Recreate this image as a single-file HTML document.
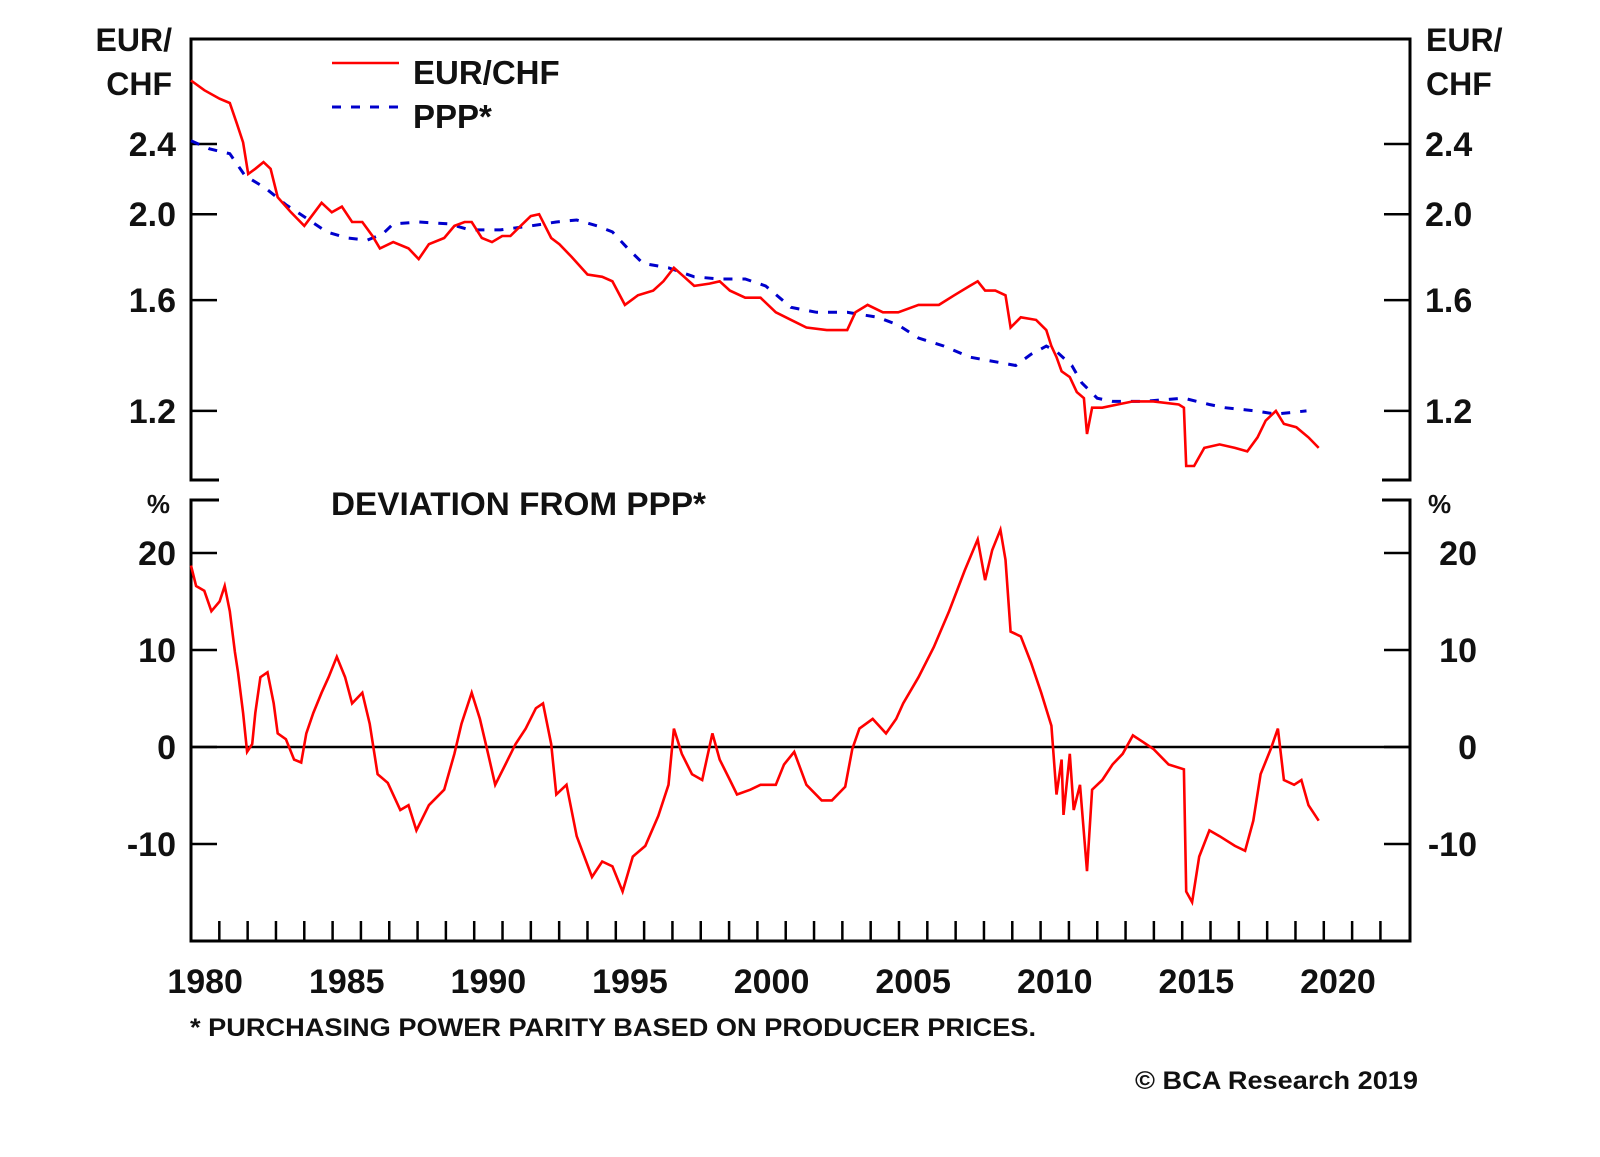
<!DOCTYPE html>
<html><head><meta charset="utf-8"><style>
html,body{margin:0;padding:0;background:#fff;}
svg text{font-family:"Liberation Sans",Arial,sans-serif;font-weight:bold;fill:#111;}
</style></head><body>
<svg id="chart" width="1600" height="1152" viewBox="0 0 1600 1152" xmlns="http://www.w3.org/2000/svg">
<g id="frame"></g>
<g id="marks"></g>
<g id="labels"></g>
</svg>
<script>
const fxYears=[1980.00,1980.47,1981.01,1981.37,1981.62,1981.84,1982.02,1982.27,1982.56,1982.81,1983.06,1983.53,1984.00,1984.36,1984.61,1984.97,1985.33,1985.69,1986.05,1986.41,1986.67,1987.14,1987.68,1988.04,1988.40,1988.94,1989.30,1989.66,1989.91,1990.27,1990.63,1990.99,1991.28,1991.64,1992.00,1992.29,1992.72,1993.01,1993.44,1994.00,1994.52,1994.88,1995.32,1995.78,1996.32,1996.68,1997.05,1997.41,1997.77,1998.31,1998.67,1999.03,1999.57,2000.11,2000.65,2001.19,2001.73,2002.45,2003.17,2003.46,2003.89,2004.43,2004.97,2005.69,2006.41,2006.95,2007.50,2007.78,2008.04,2008.40,2008.76,2008.94,2009.30,2009.84,2010.20,2010.38,2010.56,2010.74,2011.03,2011.28,2011.53,2011.64,2011.82,2012.18,2012.72,2013.26,2013.98,2014.88,2015.06,2015.14,2015.42,2015.78,2016.32,2016.86,2017.30,2017.66,2017.95,2018.31,2018.59,2019.03,2019.46,2019.82];
const fxValues=[2.83,2.76,2.70,2.67,2.53,2.41,2.22,2.25,2.29,2.25,2.09,2.01,1.94,2.01,2.06,2.01,2.04,1.96,1.96,1.89,1.83,1.86,1.83,1.78,1.85,1.88,1.94,1.96,1.96,1.88,1.86,1.89,1.89,1.94,1.99,2.00,1.88,1.85,1.79,1.71,1.70,1.68,1.58,1.62,1.64,1.68,1.74,1.70,1.66,1.67,1.68,1.64,1.61,1.61,1.55,1.52,1.49,1.48,1.48,1.55,1.58,1.55,1.55,1.58,1.58,1.62,1.66,1.68,1.64,1.64,1.62,1.49,1.53,1.52,1.48,1.42,1.38,1.33,1.31,1.26,1.24,1.13,1.21,1.21,1.22,1.23,1.23,1.22,1.21,1.04,1.04,1.09,1.10,1.09,1.08,1.12,1.17,1.20,1.16,1.15,1.12,1.09];
const pppYears=[1980.00,1980.65,1981.37,1981.91,1982.63,1983.35,1984.07,1984.79,1985.51,1986.23,1986.77,1987.14,1988.04,1989.12,1989.84,1990.92,1992.00,1992.90,1993.62,1994.34,1994.88,1995.42,1995.96,1996.86,1997.77,1998.67,1999.57,2000.29,2001.19,2002.09,2003.17,2004.25,2004.97,2005.69,2006.59,2007.50,2008.58,2009.12,2009.66,2010.20,2010.56,2011.10,2011.46,2012.00,2012.54,2013.62,2015.06,2015.96,2016.50,2017.58,2018.31,2019.39];
const pppValues=[2.42,2.37,2.34,2.21,2.14,2.05,1.98,1.91,1.88,1.87,1.90,1.95,1.96,1.95,1.92,1.92,1.94,1.96,1.97,1.94,1.91,1.83,1.76,1.74,1.70,1.69,1.69,1.66,1.57,1.55,1.55,1.53,1.50,1.45,1.42,1.38,1.36,1.35,1.39,1.42,1.40,1.35,1.29,1.24,1.23,1.23,1.24,1.22,1.21,1.20,1.19,1.20];
const devYears=[1980.00,1980.18,1980.47,1980.72,1981.01,1981.19,1981.37,1981.55,1981.66,1981.84,1981.98,1982.16,1982.27,1982.45,1982.70,1982.92,1983.06,1983.35,1983.64,1983.89,1984.07,1984.32,1984.61,1984.86,1985.15,1985.44,1985.69,1986.05,1986.31,1986.59,1986.95,1987.39,1987.68,1987.96,1988.40,1988.94,1989.30,1989.55,1989.91,1990.20,1990.49,1990.74,1991.10,1991.46,1991.82,1992.18,1992.43,1992.72,1992.90,1993.26,1993.62,1994.16,1994.52,1994.88,1995.24,1995.60,1996.04,1996.50,1996.86,1997.05,1997.33,1997.69,1998.05,1998.41,1998.67,1999.03,1999.28,1999.75,2000.11,2000.65,2000.94,2001.30,2001.73,2002.27,2002.63,2003.10,2003.35,2003.60,2004.07,2004.54,2004.90,2005.15,2005.69,2006.23,2006.77,2007.32,2007.78,2008.04,2008.29,2008.58,2008.76,2008.94,2009.30,2009.66,2010.02,2010.38,2010.56,2010.74,2010.81,2011.03,2011.17,2011.39,2011.64,2011.82,2012.18,2012.54,2012.90,2013.26,2013.62,2013.98,2014.52,2015.06,2015.14,2015.35,2015.60,2015.96,2016.32,2016.86,2017.22,2017.51,2017.77,2018.13,2018.38,2018.59,2018.95,2019.21,2019.46,2019.82];
const devValues=[18.7,16.6,16.1,14.0,15.0,16.6,14.0,9.8,7.7,3.5,-0.5,0.3,3.5,7.2,7.7,4.5,1.4,0.8,-1.3,-1.6,1.4,3.5,5.6,7.2,9.3,7.2,4.5,5.6,2.4,-2.8,-3.7,-6.5,-6.0,-8.6,-6.0,-4.4,-0.7,2.4,5.6,2.9,-0.7,-3.9,-1.8,0.3,1.9,4.0,4.5,0.3,-4.9,-3.9,-9.2,-13.4,-11.8,-12.3,-14.9,-11.3,-10.2,-7.1,-3.9,1.9,-0.7,-2.8,-3.4,1.4,-1.3,-3.4,-4.9,-4.4,-3.9,-3.9,-1.8,-0.5,-3.9,-5.5,-5.5,-4.1,-0.2,1.9,2.9,1.4,2.9,4.5,7.2,10.3,14.0,18.2,21.4,17.2,20.3,22.4,19.3,11.9,11.4,8.7,5.6,2.2,-4.9,-1.3,-7.0,-0.7,-6.5,-3.9,-12.8,-4.4,-3.4,-1.8,-0.7,1.2,0.5,-0.2,-1.8,-2.3,-14.9,-16.0,-11.3,-8.6,-9.2,-10.2,-10.7,-7.6,-2.8,-0.2,1.9,-3.4,-3.9,-3.4,-6.0,-7.6];
const topTicks=[2.4,2.0,1.6,1.2];
const topTickLabels=["2.4","2.0","1.6","1.2"];
const botTicks=[20,10,0,-10];
const botTickLabels=["20","10","0","-10"];
const xLabelYears=[1980,1985,1990,1995,2000,2005,2010,2015,2020];

const NS="http://www.w3.org/2000/svg";
const L=191,R=1410,T=39,TB=480,BT=500,B=941;
function xs(yr){return L+(yr-1980)*28.32;}
function ysTop(v){return 144+Math.log(2.4/v)*385;}
function ysBot(v){return 747-v*9.7;}
function mk(tag,attrs,parent){const e=document.createElementNS(NS,tag);for(const k in attrs)e.setAttribute(k,attrs[k]);parent.appendChild(e);return e;}
const frame=document.getElementById('frame'),marks=document.getElementById('marks'),labels=document.getElementById('labels');
const ax={stroke:'#000','stroke-width':3,fill:'none'};
let p=mk('path',Object.assign({d:`M${L+28},${TB} H${L} V${T} H${R} V${TB} H${R-28}`},ax),frame);


p=mk('path',Object.assign({d:`M${L+28},${BT} H${L} V${B} H${R} V${BT} H${R-28}`},ax),frame);


p=mk('line',{x1:L,x2:R,y1:ysBot(0),y2:ysBot(0),stroke:'#000','stroke-width':2.5},frame);


topTicks.forEach((v,i)=>{const y=ysTop(v);
 let t=mk('line',{x1:L,x2:L+26,y1:y,y2:y,stroke:'#000','stroke-width':2.5},frame);
 
 
 t=mk('line',{x1:R-26,x2:R,y1:y,y2:y,stroke:'#000','stroke-width':2.5},frame);
 
 
 let tx=mk('text',{x:176,y:y+12,'text-anchor':'end','font-size':34},labels);tx.textContent=topTickLabels[i];
 
 
 tx=mk('text',{x:1425,y:y+12,'text-anchor':'start','font-size':34},labels);tx.textContent=topTickLabels[i];
 
 
});
botTicks.forEach((v,i)=>{const y=ysBot(v);
 let t=mk('line',{x1:L,x2:L+26,y1:y,y2:y,stroke:'#000','stroke-width':2.5},frame);
 
 
 t=mk('line',{x1:R-26,x2:R,y1:y,y2:y,stroke:'#000','stroke-width':2.5},frame);
 
 
 let tx=mk('text',{x:176,y:y+12,'text-anchor':'end','font-size':34},labels);tx.textContent=botTickLabels[i];
 
 
 tx=mk('text',{x:1477,y:y+12,'text-anchor':'end','font-size':34},labels);tx.textContent=botTickLabels[i];
 
 
});
for(let yr=1981;yr<=2022;yr++){const x=xs(yr);
 let t=mk('line',{x1:x,x2:x,y1:B,y2:B-20,stroke:'#000','stroke-width':2.5},frame);
 
 
}
xLabelYears.forEach(yr=>{let tx=mk('text',{x:xs(yr+0.5),y:993,'text-anchor':'middle','font-size':34},labels);tx.textContent=String(yr);
 
 
});
function line(xa,va,yf,attrs,name){
 const d=xa.map((yr,i)=>(i?'L':'M')+xs(yr).toFixed(1)+','+yf(va[i]).toFixed(1)).join(' ');
 const e=mk('path',Object.assign({d:d,fill:'none'},attrs),marks);
 
 
}
line(pppYears,pppValues,ysTop,{stroke:'#0000cc','stroke-width':3,'stroke-dasharray':'9 10'},'ppp-line');
line(fxYears,fxValues,ysTop,{stroke:'#ff0000','stroke-width':2.6},'eurchf-line');
line(devYears,devValues,ysBot,{stroke:'#ff0000','stroke-width':2.6},'deviation-line');
const st=[['EUR/',172,51,32,'end','left-axis-title-1',0],['CHF',172,95,32,'end','left-axis-title-2',0],['EUR/',1426,51,32,'start','right-axis-title-1',0],['CHF',1426,95,32,'start','right-axis-title-2',0],
['%',170,513,26,'end','left-percent-unit',0],['%',1428,513,26,'start','right-percent-unit',0],
['EUR/CHF',413,84,33,'start','legend-eurchf-label',0],['PPP*',413,128,33,'start','legend-ppp-label',0],
['DEVIATION FROM PPP*',331,515,32,'start','deviation-panel-title',375],
['* PURCHASING POWER PARITY BASED ON PRODUCER PRICES.',190,1036,25,'start','footnote',846],
['© BCA Research 2019',1418,1089,25,'end','copyright',283]];
st.forEach(s=>{const a={x:s[1],y:s[2],'font-size':s[3],'text-anchor':s[4]};
 if(s[6]){a.textLength=s[6];a.lengthAdjust='spacingAndGlyphs';}
 const tx=mk('text',a,labels);tx.textContent=s[0];
 
 
});
let lg=mk('line',{x1:332,x2:399,y1:63,y2:63,stroke:'#ff0000','stroke-width':2.5},labels);


lg=mk('line',{x1:332,x2:399,y1:107,y2:107,stroke:'#0000cc','stroke-width':3,'stroke-dasharray':'9 10'},labels);


</script>
</body></html>
